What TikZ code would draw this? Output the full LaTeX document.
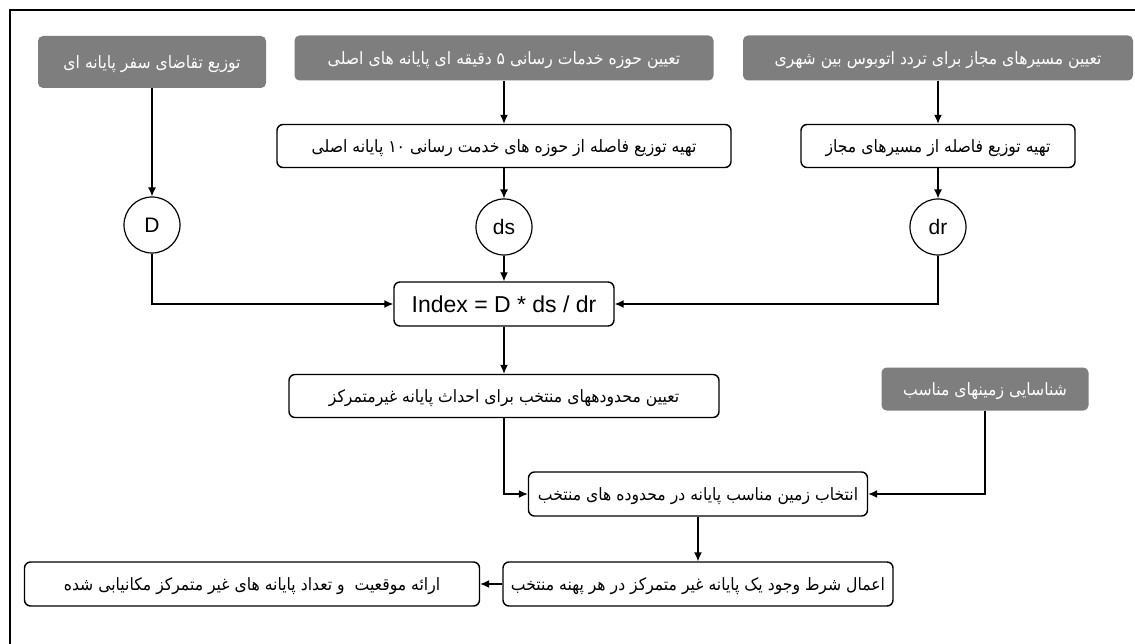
\documentclass[tikz,border=0pt]{standalone}
\usepackage{fontspec}
\setmainfont{Liberation Sans}
\newfontfamily\fa[Script=Arabic,FakeStretch=0.92]{DejaVu Sans}
\TeXXeTstate=1
\usetikzlibrary{arrows.meta}
\definecolor{boxgrey}{RGB}{126,126,126}
\tikzset{
  fatext/.style={font=\fa\fontsize{17}{20}\selectfont, text height=15pt, text depth=2pt},
  greybox/.style={rectangle, rounded corners=5pt, fill=boxgrey, text=white, fatext, inner sep=0pt},
  whitebox/.style={rectangle, rounded corners=6pt, draw=black, line width=1.4pt,
    fill=white, fatext, inner sep=0pt},
  formula/.style={rectangle, rounded corners=6pt, draw=black, line width=1.4pt,
    fill=white, font=\fontsize{23}{27}\selectfont, inner sep=0pt},
  var/.style={circle, draw=black, line width=1.2pt, minimum size=56pt, inner sep=0pt,
    font=\fontsize{21}{25}\selectfont},
  link/.style={line width=1.3pt},
  arr/.style={link, -{Latex[length=9pt,width=8pt]}},
}
\newcommand{\rtl}[1]{\beginR #1\endR}
\begin{document}
\begin{tikzpicture}[x=1pt,y=-1pt]
\useasboundingbox (0,0) rectangle (1135,644);
\draw[line width=2pt] (10,650) -- (10,10) -- (1140,10);

\node[greybox, minimum width=228pt, minimum height=52pt] (g1) at (152,62) {\rtl{توزیع تقاضای سفر پایانه ای}};
\node[greybox, minimum width=419pt, minimum height=45pt] (g2) at (504,58) {\rtl{تعیین حوزه خدمات رسانی ۵ دقیقه ای پایانه های اصلی}};
\node[greybox, minimum width=390pt, minimum height=45pt] (g3) at (938,58) {\rtl{تعیین مسیرهای مجاز برای تردد اتوبوس بین شهری}};

\node[whitebox, minimum width=454pt, minimum height=43pt] (a) at (504,146) {\rtl{تهیه توزیع فاصله از حوزه های خدمت رسانی ۱۰ پایانه اصلی}};
\node[whitebox, minimum width=274pt, minimum height=43pt] (b) at (938,146) {\rtl{تهیه توزیع فاصله از مسیرهای مجاز}};

\node[var] (D) at (152,225) {D};
\node[var] (ds) at (504,227) {ds};
\node[var] (dr) at (938,227) {dr};

\node[formula, minimum width=220pt, minimum height=44pt] (idx) at (504,304) {Index = D * ds / dr};

\node[whitebox, minimum width=430pt, minimum height=43pt] (c) at (504,396) {\rtl{تعیین محدودههای منتخب برای احداث پایانه غیرمتمرکز}};
\node[greybox, minimum width=207pt, minimum height=43pt] (g4) at (985,389) {\rtl{شناسایی زمینهای مناسب}};

\node[whitebox, minimum width=339pt, minimum height=44pt] (e) at (698,494) {\rtl{انتخاب زمین مناسب پایانه در محدوده های منتخب}};
\node[whitebox, minimum width=390pt, minimum height=44pt] (f) at (698,584) {\rtl{اعمال شرط وجود یک پایانه غیر متمرکز در هر پهنه منتخب}};
\node[whitebox, minimum width=455pt, minimum height=44pt] (g) at (252,584) {\rtl{ارائه موقعیت \ و تعداد پایانه های غیر متمرکز مکانیابی شده}};

\draw[arr] (g1) -- (D);
\draw[arr] (g2) -- (a);
\draw[arr] (a) -- (ds);
\draw[arr] (ds) -- (idx);
\draw[arr] (g3) -- (b);
\draw[arr] (b) -- (dr);
\draw[arr] (D) |- (idx);
\draw[arr] (dr) |- (idx);
\draw[arr] (idx) -- (c);
\draw[arr] (c) |- (e);
\draw[arr] (g4) |- (e);
\draw[arr] (e) -- (f);
\draw[arr] (f) -- (g);
\end{tikzpicture}
\end{document}
